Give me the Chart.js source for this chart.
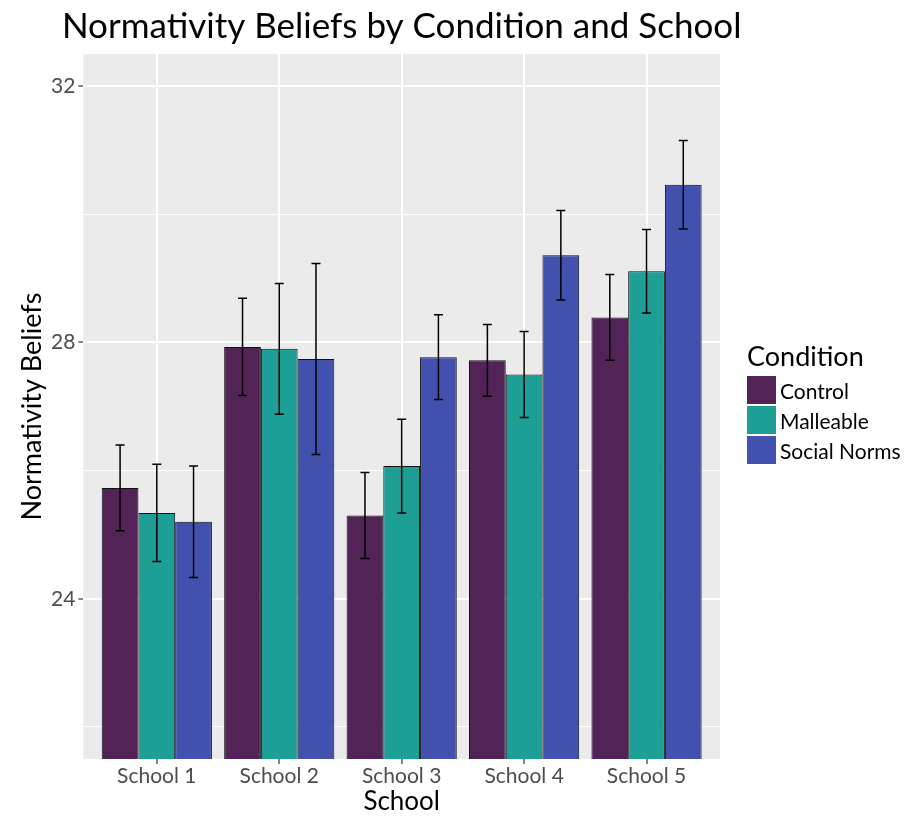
<!DOCTYPE html>
<html>
<head>
<meta charset="utf-8">
<script src="https://cdn.jsdelivr.net/npm/chart.js@4.4.0/dist/chart.umd.min.js"></script>
<style>
  body { margin: 0; background: #fff; font-family: Lato, sans-serif; }
  #wrap { position: relative; width: 917px; height: 817px; }
  #legend { position: absolute; left: 747px; top: 341px; color: #000; }
  #legend .ttl { font-size: 27px; line-height: 30px; margin-bottom: 4px; }
  #legend .row { display: flex; align-items: center; height: 30px; }
  #legend .box { width: 29px; height: 28px; margin-right: 4px; }
  #legend .lab { font-size: 21px; }
</style>
</head>
<body>
<div id="wrap">
  <canvas id="chart" width="917" height="817"></canvas>
  <div id="legend"></div>
</div>
<script>
const schools = ['School 1', 'School 2', 'School 3', 'School 4', 'School 5'];
const conditions = ['Control', 'Malleable', 'Social Norms'];
const colors = ['#512357', '#1e9f95', '#4251ae'];

const control = [25.73, 27.93, 25.30, 27.72, 28.39];
const controlErr = [0.67, 0.76, 0.67, 0.56, 0.67];
const malleable = [25.34, 27.90, 26.07, 27.50, 29.11];
const malleableErr = [0.76, 1.02, 0.73, 0.67, 0.65];
const socialNorms = [25.20, 27.74, 27.77, 29.36, 30.46];
const socialNormsErr = [0.87, 1.49, 0.66, 0.70, 0.69];

const yMin = 21.5, yMax = 32.5;

Chart.defaults.font.family = 'Lato, sans-serif';

const series = [control, malleable, socialNorms];
const errs = [controlErr, malleableErr, socialNormsErr];

const datasets = conditions.map((name, i) => ({
  label: name,
  data: series[i].map((v, j) => ({ x: j + 1, y: v })),
  errors: errs[i],
  backgroundColor: colors[i],
  borderColor: '#111',
  borderWidth: 1,
  categoryPercentage: 0.9,
  barPercentage: 1.0,
  base: yMin
}));

// grey ggplot-like panel
const panelBg = {
  id: 'panelBg',
  beforeDraw(chart) {
    const { ctx, chartArea: a } = chart;
    ctx.save();
    ctx.fillStyle = '#ebebeb';
    ctx.fillRect(a.left, a.top, a.right - a.left, a.bottom - a.top);
    ctx.restore();
  }
};

// title is centred on the panel but a bit wider than it
const wideTitle = {
  id: 'wideTitle',
  afterLayout(chart) {
    const t = chart.titleBlock;
    if (t) { t.left -= 25; t.right += 25; t.width += 50; }
  }
};

const errorBars = {
  id: 'errorBars',
  afterDatasetsDraw(chart) {
    const { ctx, scales: { y } } = chart;
    ctx.save();
    ctx.strokeStyle = '#000';
    ctx.lineWidth = 1.5;
    chart.data.datasets.forEach((ds, i) => {
      chart.getDatasetMeta(i).data.forEach((bar, j) => {
        const v = ds.data[j].y, e = ds.errors[j];
        const top = y.getPixelForValue(v + e), bot = y.getPixelForValue(v - e);
        ctx.beginPath();
        ctx.moveTo(bar.x, top); ctx.lineTo(bar.x, bot);
        ctx.moveTo(bar.x - 4.5, top); ctx.lineTo(bar.x + 4.5, top);
        ctx.moveTo(bar.x - 4.5, bot); ctx.lineTo(bar.x + 4.5, bot);
        ctx.stroke();
      });
    });
    ctx.restore();
  }
};

new Chart(document.getElementById('chart'), {
  type: 'bar',
  data: { datasets },
  options: {
    responsive: false,
    animation: false,
    layout: { padding: { left: 12.6, right: 197, top: 0, bottom: 2 } },
    plugins: {
      legend: { display: false },
      tooltip: { enabled: false },
      title: {
        display: true,
        fullSize: false,
        text: 'Normativity Beliefs by Condition and School',
        color: '#000',
        font: { size: 35, weight: 'normal' },
        padding: { top: 6, bottom: 6 }
      }
    },
    scales: {
      x: {
        type: 'linear',
        min: 0.4,
        max: 5.6,
        offset: false,
        border: { display: false },
        grid: { offset: false, color: '#fff', lineWidth: 2, tickColor: '#333', tickLength: 5, tickWidth: 1.2 },
        ticks: {
          stepSize: 1,
          includeBounds: false,
          padding: 2,
          color: '#4d4d4d',
          font: { size: 21, lineHeight: 1.0 },
          callback: v => schools[v - 1]
        },
        title: { display: true, text: 'School', color: '#000', font: { size: 26, lineHeight: 1 }, padding: { top: 0, bottom: 0 } }
      },
      y: {
        min: yMin,
        max: yMax,
        border: { display: false },
        grid: {
          color: '#fff',
          lineWidth: c => (c.tick && c.tick.value % 4 === 0 ? 2 : 1),
          tickColor: c => (c.tick && c.tick.value % 4 === 0 ? '#333' : 'rgba(0,0,0,0)'),
          tickLength: 5,
          tickWidth: 1.2
        },
        ticks: {
          stepSize: 2,
          includeBounds: false,
          padding: 3,
          color: '#4d4d4d',
          font: { size: 21 },
          callback: v => (v % 4 === 0 ? v : '')
        },
        title: { display: true, text: 'Normativity Beliefs', color: '#000', font: { size: 27 }, padding: { top: 3, bottom: 0 } }
      }
    }
  },
  plugins: [panelBg, wideTitle, errorBars]
});

// legend built from the same arrays
const leg = document.getElementById('legend');
leg.innerHTML = '<div class="ttl">Condition</div>' + conditions.map((c, i) =>
  `<div class="row"><div class="box" style="background:${colors[i]}"></div><span class="lab">${c}</span></div>`
).join('');
</script>
</body>
</html>
